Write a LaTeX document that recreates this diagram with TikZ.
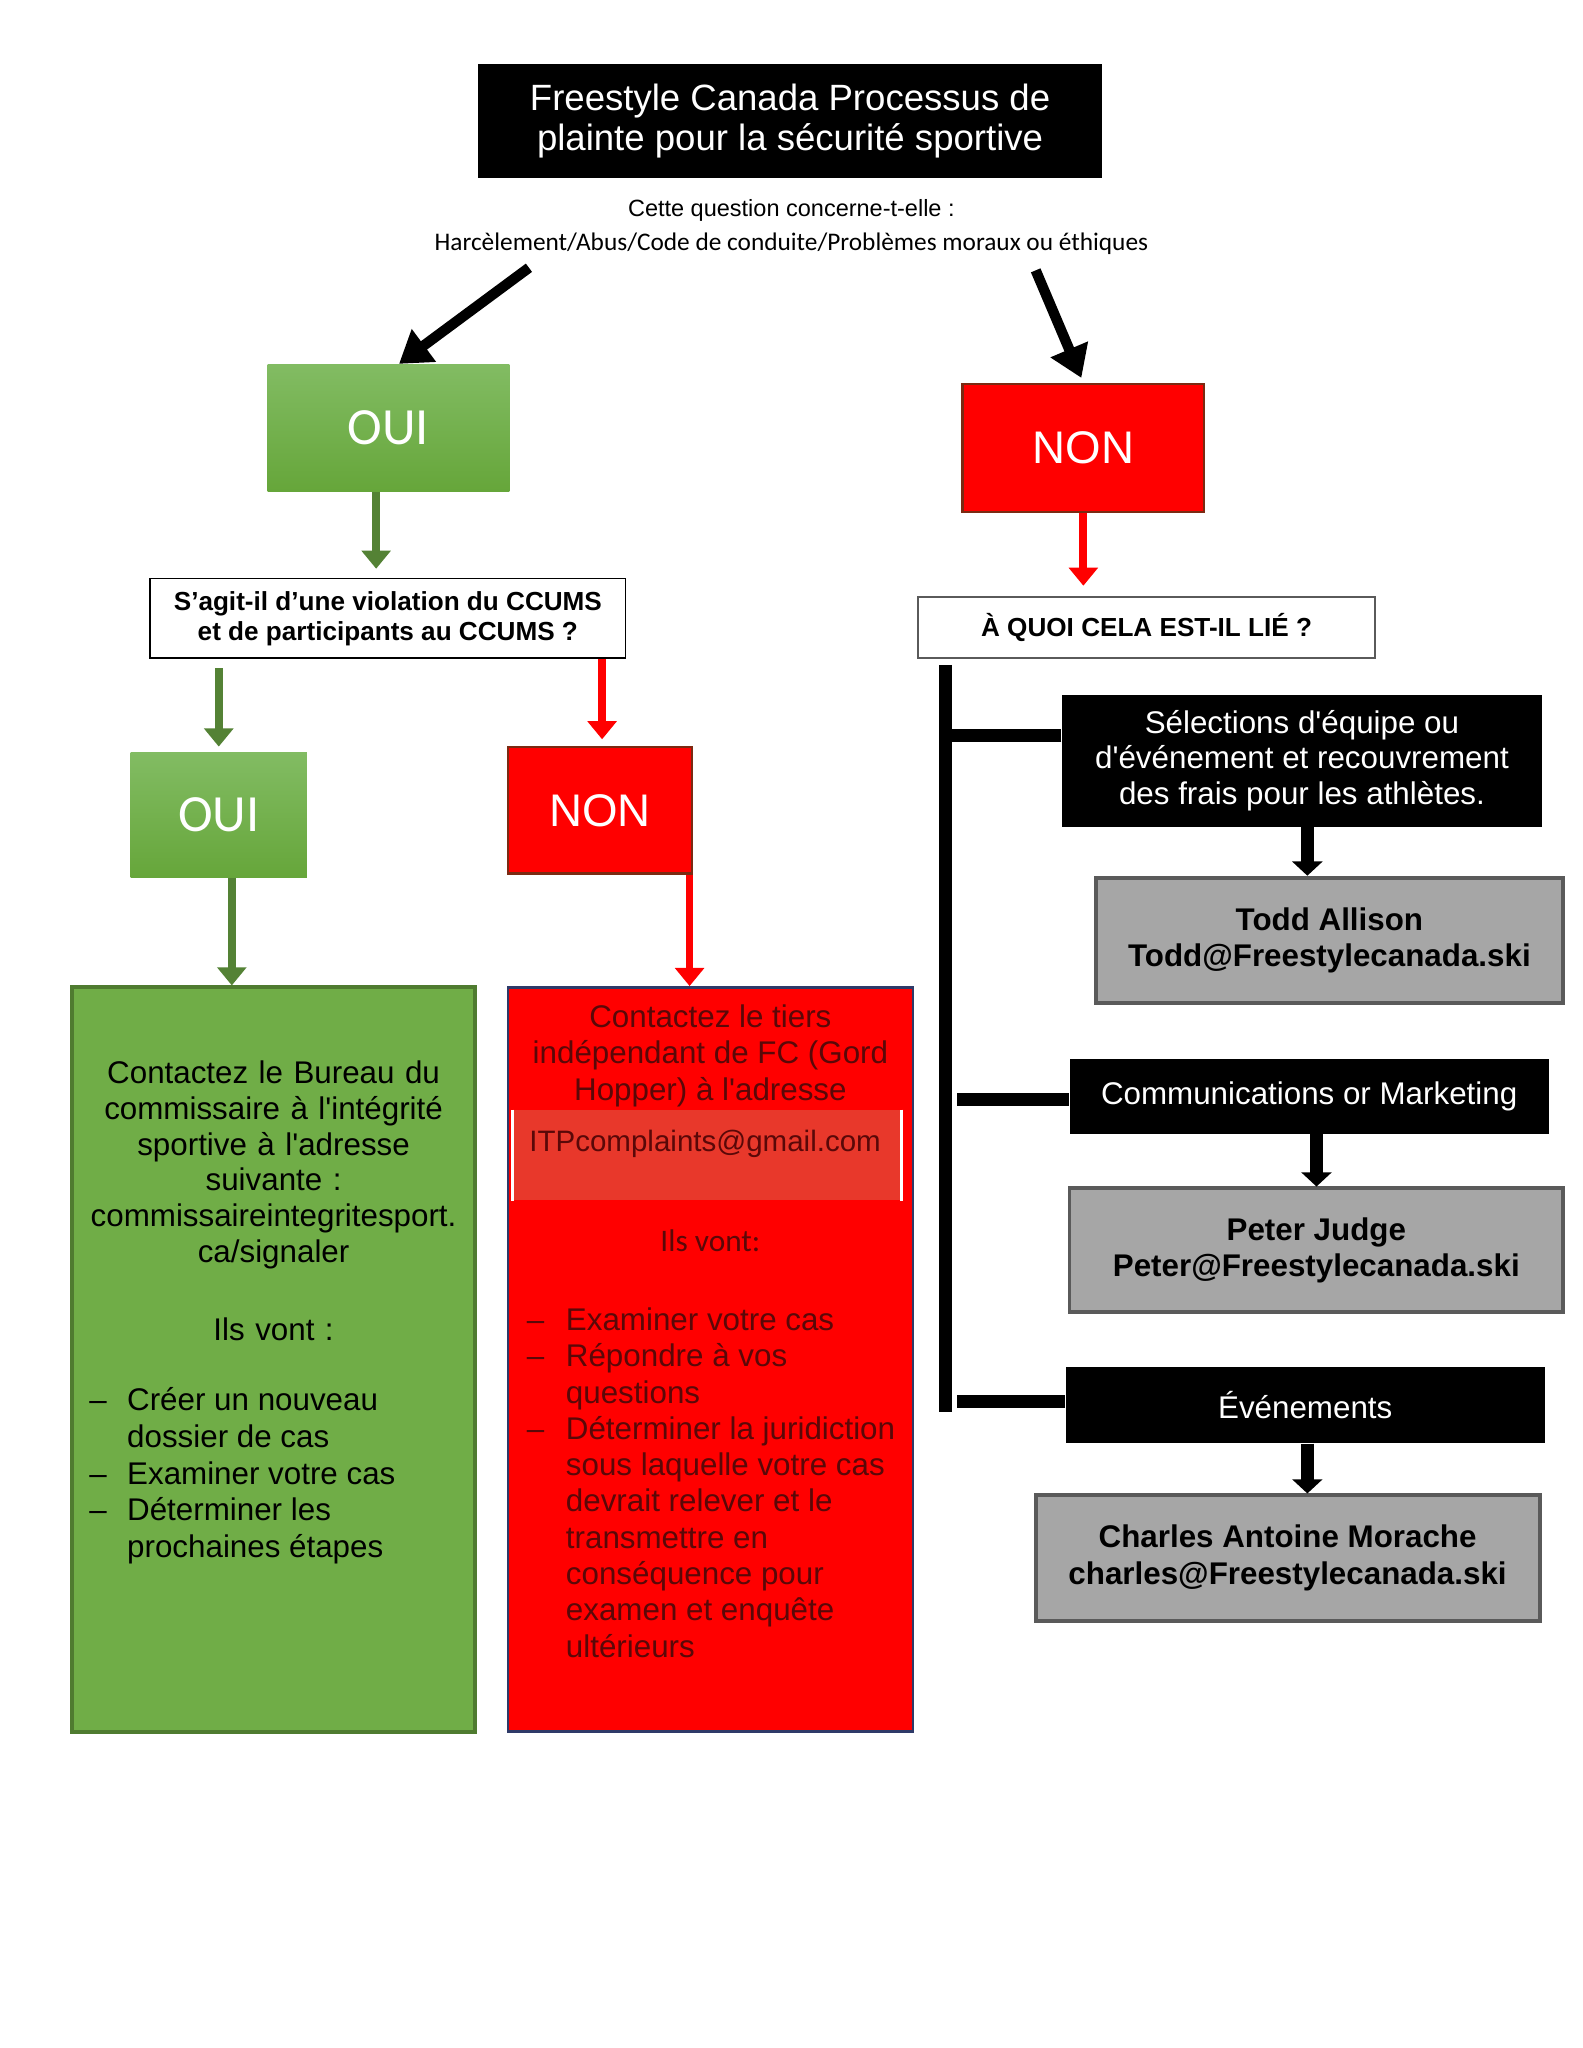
\documentclass[tikz,border=0pt]{standalone}
\usepackage{fontspec}
\newfontfamily\arial{Liberation Sans}
\newfontfamily\calfont{Carlito}
\usetikzlibrary{arrows.meta}
\definecolor{ouitop}{HTML}{82BC63}
\definecolor{ouibot}{HTML}{66A63A}
\definecolor{gfill}{HTML}{70AD47}
\definecolor{gline}{HTML}{4F7B30}
\definecolor{garr}{HTML}{548235}
\definecolor{nonline}{HTML}{7B2A12}
\definecolor{rline}{HTML}{2E3A68}
\definecolor{rtxt}{HTML}{5A0808}
\definecolor{mailfill}{HTML}{E8382B}
\definecolor{grayfill}{HTML}{A6A6A6}
\definecolor{grayline}{HTML}{5A5A5A}
\tikzset{
  box/.style={inner sep=0pt, align=center},
  titlebox/.style={box, fill=black, text=white, font=\arial\fontsize{14}{15.5}\selectfont},
  ouibox/.style={box, top color=ouitop, bottom color=ouibot, text=white, font=\calfont\fontsize{20}{22}\selectfont},
  nonbox/.style={box, fill=red, draw=nonline, line width=1pt, text=white, font=\arial\fontsize{17.5}{19}\selectfont},
  askbox/.style={box, fill=white, draw=black, line width=0.6pt, font=\arial\bfseries\fontsize{10}{11.5}\selectfont},
  blackbox/.style={box, fill=black, text=white, font=\arial\fontsize{12}{13.5}\selectfont},
  graybox/.style={box, fill=grayfill, draw=grayline, line width=1.5pt, font=\arial\bfseries\fontsize{12}{14}\selectfont},
  gtext/.style={inner sep=0pt, font=\arial\fontsize{12}{13.7}\selectfont},
  rtext/.style={inner sep=0pt, text=rtxt, font=\arial\fontsize{12}{13.9}\selectfont},
  barrow/.style={line width=4pt, >={Triangle[length=12pt,width=15pt]}, ->},
  garrow/.style={draw=garr, line width=3pt, >={Triangle[length=7pt,width=11pt]}, ->},
  rarrow/.style={draw=red, line width=3pt, >={Triangle[length=7pt,width=11pt]}, ->},
  karrow/.style={line width=5pt, >={Triangle[length=5.5pt,width=11.5pt]}, ->},
  trunk/.style={line width=5pt}
}
\begin{document}
\begin{tikzpicture}[x=0.5pt,y=-0.5pt,scale=1.01,every node/.append style={transform shape}]
\useasboundingbox (0,0) rectangle (1211.9,1568.3);
\fill[white] (0,0) rectangle (1211.9,1568.3);

% title and question
\node[titlebox, minimum width=239pt, minimum height=43.5pt] (title) at (605,92.5) {Freestyle Canada Processus de\\plainte pour la sécurité sportive};
\node[inner sep=0pt, font=\arial\fontsize{9}{10}\selectfont] (ask) at (606,161) {Cette question concerne-t-elle :};
\node[inner sep=0pt, font=\calfont\fontsize{9.7}{12}\selectfont] (topics) at (606,187) {Harcèlement/Abus/Code de conduite/Problèmes moraux ou éthiques};
\coordinate (qleft) at (405,205);
\coordinate (qright) at (793,207);

% first answers
\node[ouibox, minimum width=92.5pt, minimum height=48.5pt] (oui1) at (297.5,327.5) {OUI};
\node[nonbox, minimum width=92.5pt, minimum height=49pt] (non1) at (829.5,343) {NON};
\draw[barrow] (qleft) -- ([xshift=4pt]oui1.north);
\draw[barrow, shorten >=2pt] (qright) -- (non1.north);

\node[askbox, minimum width=182pt, minimum height=30.5pt] (ccums) at (297,473.5) {S’agit-il d’une violation du CCUMS\\et de participants au CCUMS ?};
\node[askbox, draw=grayline, minimum width=175pt, minimum height=23.5pt] (lie) at (878,480.5) {À QUOI CELA EST-IL LIÉ ?};
\draw[garrow, shorten >=3.5pt] ([xshift=-4.75pt]oui1.south) -- ([xshift=-4.75pt]oui1.south |- ccums.north);
\draw[rarrow, shorten >=4pt] (non1.south) -- (non1.south |- lie.north);

% CCUMS answers
\node[ouibox, minimum width=67.5pt, minimum height=48pt] (oui2) at (167.5,624) {OUI};
\node[nonbox, minimum width=70.5pt, minimum height=48.5pt] (non2) at (459.5,620.5) {NON};
\draw[garrow, shorten <=3.5pt, shorten >=2pt] (oui2.north |- ccums.south) -- (oui2.north);
\draw[rarrow, shorten >=2.5pt] ([xshift=0.75pt]non2.north |- ccums.south) -- ([xshift=0.75pt]non2.north);

% green column
\node[draw=gline, fill=gfill, line width=1.5pt, minimum width=154.5pt, minimum height=285pt] (gbig) at (209.5,1041) {};
\draw[garrow] ([xshift=5pt]oui2.south) -- ([xshift=5pt]oui2.south |- gbig.north);
\node[gtext, anchor=north, align=center, text width=152pt] (gtxt) at (209.5,812)
  {Contactez le Bureau du\\commissaire à l'intégrité\\sportive à l'adresse\\suivante :\\commissaireintegritesport.\\ca/signaler\\[16pt]Ils vont :};
\node[gtext, anchor=north west, align=left] (glist) at (68,1062)
  {\makebox[14.5pt][l]{–}Créer un nouveau\\[0.4pt]\hspace*{14.5pt}dossier de cas\\[0.4pt]\makebox[14.5pt][l]{–}Examiner votre cas\\[0.4pt]\makebox[14.5pt][l]{–}Déterminer les\\[0.4pt]\hspace*{14.5pt}prochaines étapes};

% red column
\node[draw=rline, fill=red, line width=1pt, minimum width=155pt, minimum height=285pt] (rbig) at (544,1041) {};
\draw[rarrow] ([xshift=-1.5pt]non2.south east) -- ([xshift=-1.5pt]non2.south east |- rbig.north);
\node[rtext, anchor=north, align=center] (rtxt1) at (544,769)
  {Contactez le tiers\\indépendant de FC (Gord\\Hopper) à l'adresse};
\node[fill=mailfill, inner sep=0pt, minimum width=148.5pt, minimum height=34.5pt] (mail) at (541.5,884.5) {};
\draw[white, line width=1pt] (mail.north west) -- (mail.south west);
\draw[white, line width=1pt] (mail.north east) -- (mail.south east);
\node[rtext, anchor=west, font=\arial\fontsize{11.3}{13}\selectfont] (mailtxt) at (405,876) {ITPcomplaints@gmail.com};
\node[rtext, font=\calfont\fontsize{12}{14}\selectfont] (rvont) at (544,950) {Ils vont:};
\node[rtext, anchor=north west, align=left] (rlist) at (403,1001)
  {\makebox[15pt][l]{–}Examiner votre cas\\\makebox[15pt][l]{–}Répondre à vos\\\hspace*{15pt}questions\\\makebox[15pt][l]{–}Déterminer la juridiction\\\hspace*{15pt}sous laquelle votre cas\\\hspace*{15pt}devrait relever et le\\\hspace*{15pt}transmettre en\\\hspace*{15pt}conséquence pour\\\hspace*{15pt}examen et enquête\\\hspace*{15pt}ultérieurs};

% right column
\node[blackbox, minimum width=184pt, minimum height=50.5pt] (sel) at (997,582.5) {Sélections d'équipe ou\\d'événement et recouvrement\\des frais pour les athlètes.};
\node[graybox, minimum width=179pt, minimum height=48pt] (todd) at (1018,720) {Todd Allison\\Todd@Freestylecanada.ski};
\node[blackbox, minimum width=183.5pt, minimum height=28.5pt] (comm) at (1002.5,839.5) {Communications or Marketing};
\node[graybox, minimum width=189pt, minimum height=47.5pt] (peter) at (1008,957.5) {Peter Judge\\Peter@Freestylecanada.ski};
\node[blackbox, minimum width=183.5pt, minimum height=29pt] (evt) at (999.5,1076) {Événements};
\node[graybox, minimum width=193pt, minimum height=48pt] (charles) at (986,1193) {Charles Antoine Morache\\charles@Freestylecanada.ski};
\draw[karrow] ([xshift=2pt]sel.south) -- ([xshift=2pt]sel.south |- todd.north);
\draw[karrow] (peter.north |- comm.south) -- (peter.north);
\draw[karrow] ([xshift=0.75pt]evt.south) -- ([xshift=0.75pt]evt.south |- charles.north);

\coordinate (trunktop) at (724,509);
\draw[trunk] (trunktop) -- ([yshift=-2.5pt]trunktop |- evt.west);
\draw[trunk] ([yshift=9.75pt]sel.west) -- ([yshift=9.75pt]sel.west -| trunktop);
\draw[trunk] ([yshift=-1.25pt]comm.west) -- ([xshift=4.5pt,yshift=-1.25pt]comm.west -| trunktop);
\draw[trunk] ([yshift=1.5pt]evt.west) -- ([xshift=4.5pt,yshift=1.5pt]evt.west -| trunktop);
\end{tikzpicture}
\end{document}
